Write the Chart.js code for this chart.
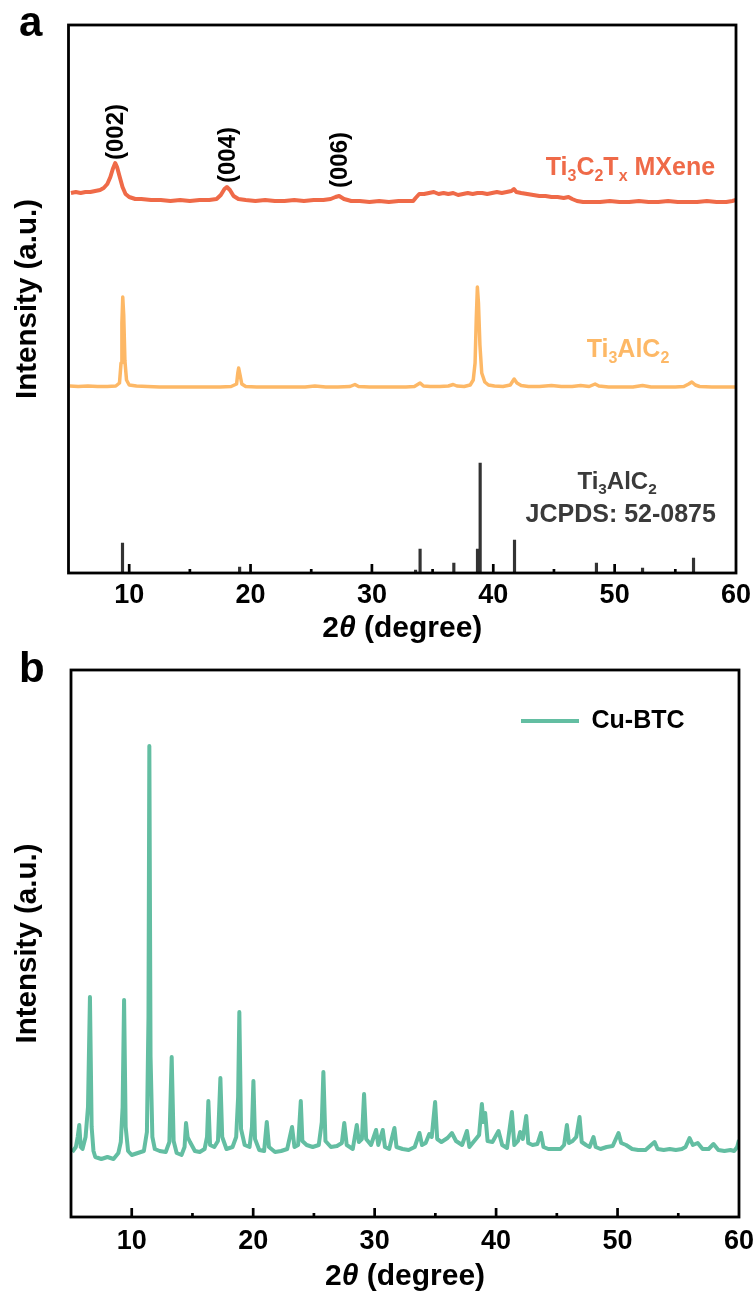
<!DOCTYPE html>
<html>
<head>
<meta charset="utf-8">
<script src="https://cdn.jsdelivr.net/npm/chart.js@4.4.1/dist/chart.umd.min.js"></script>
<style>
html,body{margin:0;padding:0;background:#fff;}
#wrap{position:relative;width:755px;height:1294px;overflow:hidden;}
.box{position:absolute;left:0;width:755px;}
#boxA{top:0;height:650px;}
#boxB{top:650px;height:644px;}
</style>
</head>
<body>
<div id="wrap">
  <div class="box" id="boxA"><canvas id="cA"></canvas></div>
  <div class="box" id="boxB"><canvas id="cB"></canvas></div>
</div>
<script>
// ================= DATA =================
// Panel a — Ti3C2Tx MXene pattern (2θ, intensity a.u.)
const mxeneTheta = [5.2,5.6,6.0,6.4,6.8,7.2,7.6,7.9,8.2,8.45,8.65,8.85,9.0,9.2,9.45,9.7,10.0,10.5,11.0,11.8,12.6,13.4,14.2,15.0,15.8,16.6,17.2,17.55,17.85,18.05,18.3,18.6,19.0,19.6,20.4,21.2,22.0,22.8,23.6,24.4,25.2,26.0,26.6,27.0,27.3,27.7,28.3,29.0,29.8,30.6,31.4,32.2,33.0,33.4,33.6,33.9,34.3,34.7,35.1,35.5,35.9,36.3,36.7,37.1,37.5,37.9,38.3,38.7,39.1,39.5,39.9,40.3,40.7,41.1,41.5,41.7,41.9,42.3,42.8,43.3,43.8,44.3,44.8,45.3,45.8,46.2,46.5,46.9,47.4,48.0,48.8,49.6,50.4,51.2,52.0,52.8,53.6,54.4,55.2,56.0,56.8,57.6,58.4,59.2,59.7,60.0];
const mxeneIntensity = [380,381,380,381,381,382,383,385,389,396,404,410,406,397,386,379,376,374,374,373,373,372,373,372,373,373,374,378,384,386,383,377,374,373,372,373,372,372,373,372,373,373,374,376,377,374,372,372,371,372,371,372,372,372,375,379,379,380,381,379,380,379,380,378,379,380,379,380,380,379,380,381,380,381,382,384,381,380,379,378,377,377,376,376,375,376,374,372,371,371,371,372,371,371,372,371,371,372,371,371,371,372,371,371,372,373];

// Panel a — Ti3AlC2 pattern
const ti3alc2Theta = [5.1,5.8,6.6,7.4,8.2,8.9,9.2,9.33,9.4,9.47,9.55,9.65,9.78,10.0,10.6,11.5,12.5,13.5,14.5,15.5,16.5,17.5,18.4,18.85,18.95,19.02,19.12,19.28,19.6,20.5,21.5,22.5,23.5,24.5,25.3,26.2,27.2,28.2,28.6,28.9,29.8,30.8,31.8,32.8,33.5,33.97,34.25,34.8,35.6,36.3,36.7,37.0,37.6,38.1,38.35,38.5,38.6,38.69,38.78,38.9,39.05,39.3,39.6,40.1,40.8,41.4,41.72,41.95,42.3,42.9,43.8,44.8,45.6,46.5,47.2,47.9,48.39,48.7,49.5,50.5,51.5,52.3,53.0,54.0,55.0,55.7,56.1,56.36,56.65,57.0,58.0,59.0,60.0];
const ti3alc2Intensity = [187,186.5,187,186.5,186.5,187,190,210,250,276,258,212,193,188,187,186.5,186,186,186,186,186,186,186.5,189,200,205,199,189,186.5,186,186,186,186,186,187,186,186,186.5,188.5,186.5,186,186,186,186,186.5,190,187,186.5,186.5,187,188.5,187,186.5,188,193,210,255,286,270,228,200,191,188,187,186.5,188,194,190,187.5,186.5,186.5,187.5,186.5,186.5,187.5,186.5,189,187,186,186,186,187.5,186,186,186,186.5,189,191,188,186.5,186,186,186];

// Panel a — reference card JCPDS 52-0875 (stick pattern)
const jcpdsTheta = [9.45,19.1,33.6,33.97,36.75,38.7,38.92,41.75,48.5,52.3,56.5];
const jcpdsIntensity = [30,6,3,24,10,24,110,33,10,5,15];

// Panel b — Cu-BTC pattern
const cuBtcTheta = [5.1,5.4,5.55,5.68,5.8,5.95,6.2,6.4,6.56,6.7,6.85,7.0,7.5,8.0,8.5,8.9,9.1,9.25,9.37,9.5,9.7,10.0,10.5,11.0,11.25,11.38,11.45,11.55,11.7,11.9,12.3,12.8,13.1,13.29,13.45,13.7,14.1,14.35,14.47,14.6,14.8,15.2,15.6,16.0,16.2,16.31,16.45,16.8,17.1,17.3,17.45,17.8,18.3,18.6,18.76,18.86,19.0,19.3,19.7,19.9,20.02,20.15,20.5,20.9,21.12,21.3,21.8,22.3,22.8,23.2,23.4,23.7,23.92,24.05,24.4,24.9,25.4,25.65,25.78,25.95,26.4,26.9,27.3,27.5,27.7,28.2,28.53,28.7,28.95,29.13,29.3,29.7,30.12,30.3,30.67,30.85,31.2,31.63,31.8,32.3,32.8,33.3,33.69,33.9,34.2,34.5,34.7,34.98,35.15,35.5,36.0,36.36,36.7,37.2,37.6,37.8,38.2,38.6,38.83,38.95,39.1,39.3,39.7,40.2,40.5,40.9,41.3,41.5,41.8,41.98,42.2,42.48,42.65,43.0,43.4,43.69,43.9,44.3,44.8,45.3,45.6,45.83,46.0,46.3,46.6,46.87,47.05,47.4,47.7,48.02,48.2,48.6,49.1,49.6,50.08,50.3,50.7,51.2,51.7,52.3,53.05,53.3,53.8,54.3,54.8,55.3,55.6,55.93,56.2,56.6,57.0,57.5,57.9,58.3,58.8,59.3,59.6,59.85,60.0];
const cuBtcIntensity = [65,70,80,92,70,68,80,110,220,90,66,60,58,60,58,64,75,110,217,90,66,62,64,66,85,200,471,160,80,68,66,65,75,160,76,64,62,70,94,80,75,66,65,68,80,116,72,70,76,139,80,68,70,80,120,205,88,72,70,90,136,78,67,66,95,70,65,66,68,90,70,72,116,76,72,70,72,95,145,76,70,71,74,94,72,68,92,75,78,123,78,72,87,72,87,70,68,89,70,68,67,70,84,72,74,83,80,115,78,75,79,84,76,72,86,70,76,82,113,95,104,76,75,86,72,69,105,72,76,85,78,101,74,72,73,84,70,68,68,68,72,92,74,76,80,100,75,72,70,80,70,68,70,71,84,74,72,68,67,67,75,68,67,68,67,68,70,79,72,74,68,68,73,67,66,67,66,70,77];

// Axis ticks (x)
const majorTicks = [10,20,30,40,50,60];
const minorTicks = [15,25,35,45,55];

// (hkl) annotations for the MXene peaks
const hklText = ['(002)','(004)','(006)'];
const hklTheta = [8.85,18.05,27.3];
const hklAnchor = [413,390,385];

// ================= STYLE / HELPERS =================
const FONT = '"Liberation Sans", Arial, Helvetica, sans-serif';
Chart.defaults.font.family = FONT;
Chart.defaults.color = '#000';

const COL_MX = '#EF6A48';
const COL_TAC = '#FDB866';
const COL_REF = '#333333';
const COL_CU = '#63BEA2';

const pts = (xs, ys) => xs.map((x, i) => ({x: x, y: ys[i]}));

function drawRich(ctx, segs, cx, cy, size, color) {
  const sub = size * 0.64;
  let total = 0;
  const parts = segs.map(s => {
    const isSub = !!s[1];
    const ital = !!s[2];
    const f = `${ital ? 'italic ' : ''}bold ${isSub ? sub : size}px ${FONT}`;
    ctx.font = f;
    const w = ctx.measureText(s[0]).width;
    total += w;
    return {t: s[0], isSub, f, w};
  });
  let x = cx - total / 2;
  const base = cy + size * 0.36;
  ctx.fillStyle = color;
  ctx.textAlign = 'left';
  ctx.textBaseline = 'alphabetic';
  parts.forEach(p => {
    ctx.font = p.f;
    ctx.fillText(p.t, x, base + (p.isSub ? size * 0.24 : 0));
    x += p.w;
  });
}

const decor = {
  id: 'decor',
  afterLayout(chart, args, o) {
    if (o && o.legendAt && chart.legend) {
      const lg = chart.legend;
      const w = lg.width, h = lg.height;
      lg.left = o.legendAt[0]; lg.top = o.legendAt[1];
      lg.right = lg.left + w; lg.bottom = lg.top + h;
    }
  },
  afterDatasetsDraw(chart, args, o) {
    const ctx = chart.ctx;
    const {left, right, top, bottom} = chart.chartArea;
    const xs = chart.scales.x, ys = chart.scales.y;
    ctx.save();
    // inward tick marks
    ctx.strokeStyle = '#000';
    ctx.lineWidth = 2.7;
    xs.ticks.forEach(t => {
      const v = t.value;
      const len = majorTicks.includes(v) ? 9 : (minorTicks.includes(v) ? 4 : 0);
      if (!len || v <= xs.min || v >= xs.max) return;
      const px = xs.getPixelForValue(v);
      ctx.beginPath();
      ctx.moveTo(px, bottom);
      ctx.lineTo(px, bottom - len);
      ctx.stroke();
    });
    // frame
    ctx.lineWidth = 2.8;
    ctx.strokeRect(left, top, right - left, bottom - top);
    // x-axis title with italic theta
    drawRich(ctx, [['2'], ['θ', 0, 1], [' (degree)']], (left + right) / 2, bottom + o.titleDy, 30, '#000');
    // panel letter
    ctx.font = `bold 42px ${FONT}`;
    ctx.fillStyle = '#000';
    ctx.textAlign = 'left';
    ctx.textBaseline = 'alphabetic';
    ctx.fillText(o.letter, o.letterAt[0], o.letterAt[1]);
    // hkl annotations
    (o.hkl || []).forEach(a => {
      const px = xs.getPixelForValue(a.x);
      const py = ys.getPixelForValue(a.y);
      ctx.save();
      ctx.translate(px, py);
      ctx.rotate(-Math.PI / 2);
      ctx.font = `bold 24px ${FONT}`;
      ctx.fillStyle = '#000';
      ctx.textAlign = 'left';
      ctx.textBaseline = 'middle';
      ctx.fillText(a.t, 0, 1);
      ctx.restore();
    });
    // series labels
    (o.labels || []).forEach(l => {
      drawRich(ctx, l.segs, xs.getPixelForValue(l.x), ys.getPixelForValue(l.y), l.size, l.color);
    });
    ctx.restore();
  }
};

function makeOptions(c) {
  return {
    responsive: true,
    maintainAspectRatio: false,
    animation: false,
    devicePixelRatio: 1,
    events: [],
    layout: {padding: c.padding},
    scales: {
      x: {
        type: 'linear', min: 5, max: 60, offset: false,
        ticks: {
          stepSize: 5, autoSkip: false, maxRotation: 0, minRotation: 0,
          padding: 0, color: '#000',
          font: {size: 27, weight: 'bold', lineHeight: c.tickLH},
          callback: v => majorTicks.includes(v) ? String(v) : ''
        },
        grid: {display: false, drawTicks: false, offset: false},
        border: {display: false},
        afterFit: s => { s.height = c.xHeight; }
      },
      y: {
        min: 0, max: c.yMax,
        ticks: {display: false},
        grid: {display: false, drawTicks: false},
        border: {display: false},
        title: {
          display: true, text: 'Intensity (a.u.)', color: '#000',
          font: {size: 29.5, weight: 'bold'},
          padding: {top: 10, bottom: 0}
        },
        afterFit: s => { s.width = c.yWidth; }
      }
    },
    plugins: {
      tooltip: {enabled: false},
      legend: c.legend,
      decor: c.decor
    }
  };
}

// ================= PANEL A =================
new Chart(document.getElementById('cA'), {
  type: 'line',
  data: {
    datasets: [
      {label: 'Ti3C2Tx MXene', data: pts(mxeneTheta, mxeneIntensity), borderColor: COL_MX, borderWidth: 4, pointRadius: 0, tension: 0, borderJoinStyle: 'round'},
      {label: 'Ti3AlC2', data: pts(ti3alc2Theta, ti3alc2Intensity), borderColor: COL_TAC, borderWidth: 3.5, pointRadius: 0, tension: 0, borderJoinStyle: 'round'},
      {type: 'bar', label: 'Ti3AlC2 JCPDS: 52-0875', data: pts(jcpdsTheta, jcpdsIntensity), backgroundColor: COL_REF, borderWidth: 0, barThickness: 2.5}
    ]
  },
  options: makeOptions({
    padding: {left: 0, top: 25, right: 19, bottom: 0},
    tickLH: '46px', xHeight: 77, yWidth: 68.5, yMax: 548,
    legend: {display: false},
    decor: {
      titleDy: 53, letter: 'a', letterAt: [19, 36],
      hkl: hklText.map((t, i) => ({t: t, x: hklTheta[i], y: hklAnchor[i]})),
      labels: [
        {segs: [['Ti'], ['3', 1], ['C'], ['2', 1], ['T'], ['x', 1], [' MXene']], x: 51.3, y: 407, size: 25, color: COL_MX},
        {segs: [['Ti'], ['3', 1], ['AlC'], ['2', 1]], x: 51.1, y: 225, size: 25, color: COL_TAC},
        {segs: [['Ti'], ['3', 1], ['AlC'], ['2', 1]], x: 50.2, y: 93, size: 24, color: '#3a3a3a'},
        {segs: [['JCPDS: 52-0875']], x: 50.5, y: 60, size: 25, color: '#3a3a3a'}
      ]
    }
  }),
  plugins: [decor]
});

// ================= PANEL B =================
new Chart(document.getElementById('cB'), {
  type: 'line',
  data: {
    datasets: [
      {label: 'Cu-BTC', data: pts(cuBtcTheta, cuBtcIntensity), borderColor: COL_CU, backgroundColor: COL_CU, borderWidth: 4, pointRadius: 0, tension: 0, borderJoinStyle: 'round'}
    ]
  },
  options: makeOptions({
    padding: {left: 0, top: 20, right: 16, bottom: 0},
    tickLH: '50px', xHeight: 77, yWidth: 71, yMax: 547,
    legend: {
      display: true, position: 'chartArea', align: 'start',
      labels: {usePointStyle: true, pointStyle: 'line', pointStyleWidth: 58, padding: 0, color: '#000', font: {size: 25, weight: 'bold'}}
    },
    decor: {titleDy: 57, letter: 'b', letterAt: [19, 32], legendAt: [521, 58.5]}
  }),
  plugins: [decor]
});
</script>
</body>
</html>
